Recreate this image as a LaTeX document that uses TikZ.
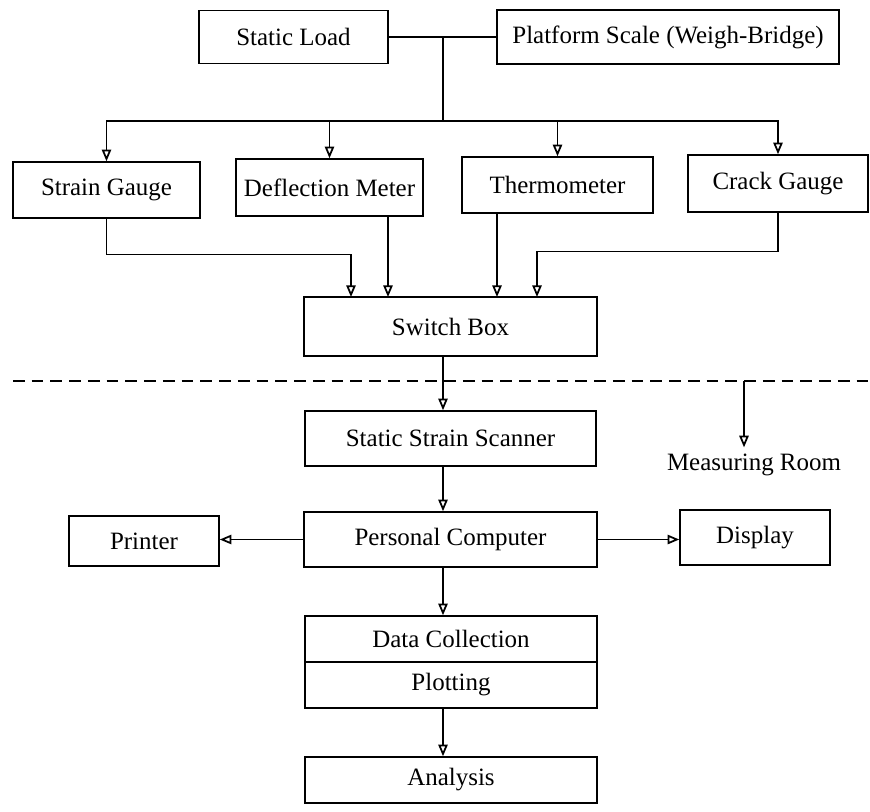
\documentclass[tikz,border=0pt]{standalone}
\usepackage{fontspec}
\setmainfont{Liberation Serif}
\usetikzlibrary{arrows.meta}
\begin{document}
\begin{tikzpicture}[x=0.03cm, y=-0.03cm, font=\fontsize{21.3}{25}\selectfont,
		>={Triangle[open, length=10pt, width=8pt, line width=1.5pt]},
		block/.style={draw, line width=1.3pt, inner sep=0pt, align=center},
		link/.style={line width=1.2pt}]
	\useasboundingbox (0,0) rectangle (870,811);
	% sensors side
	\node[block, minimum width=5.67cm, minimum height=1.59cm] (load) at (293.5,37) {Static Load};
	\node[block, minimum width=10.26cm, minimum height=1.62cm] (scale) at (668,37) {Platform Scale (Weigh-Bridge)};
	\node[block, minimum width=5.61cm, minimum height=1.68cm] (strain) at (106.5,190) {Strain Gauge};
	\node[block, minimum width=5.61cm, minimum height=1.71cm] (defl) at (329.5,187.5) {Deflection Meter};
	\node[block, minimum width=5.73cm, minimum height=1.68cm] (thermo) at (557.5,185) {Thermometer};
	\node[block, minimum width=5.4cm, minimum height=1.71cm] (crack) at (778,183.5) {Crack Gauge};
	\node[block, minimum width=8.79cm, minimum height=1.77cm] (sw) at (450.5,326.5) {Switch Box};

	\coordinate (j) at (443,37);
	\coordinate (d) at (443,121);
	\draw[link] (load.east) -- (scale.west);
	\draw[link] (j) -- (d);
	\draw[link,->] (d) -| (strain.north);
	\draw[link,->] (d) -| (defl.north);
	\draw[link,->] (d) -| (thermo.north);
	\draw[link,->] (d) -| (crack.north);

	\coordinate (in1) at (351,297);
	\coordinate (in2) at (388,297);
	\coordinate (in3) at (497,297);
	\coordinate (in4) at (537,297);
	\draw[link,->] (strain.south) -- ++(0,36) -| (in1);
	\draw[link,->] (defl.south -| in2) -- (in2);
	\draw[link,->] (thermo.south -| in3) -- (in3);
	\draw[link,->] (crack.south) -- ++(0,39) -| (in4);

	% measuring room
	\coordinate (dl) at (13,381);
	\coordinate (dr) at (870,381);
	\draw[line width=1pt, dash pattern=on 10pt off 6pt] (dl) -- (dr);
	\coordinate (m) at (744,381);
	\node[anchor=base, inner sep=5pt] (room) at (754,470) {Measuring Room};
	\draw[link,->] (m) -- (m |- room.north);

	\node[block, minimum width=8.73cm, minimum height=1.65cm] (scan) at (450.5,438.5) {Static Strain Scanner};
	\node[block, minimum width=8.79cm, minimum height=1.65cm] (pc) at (450.5,539.5) {Personal Computer};
	\node[block, minimum width=4.5cm, minimum height=1.5cm] (printer) at (144,541) {Printer};
	\node[block, minimum width=4.5cm, minimum height=1.65cm] (disp) at (755,537.5) {Display};
	\node[block, minimum width=8.76cm, minimum height=1.38cm] (dc) at (451,639) {Data Collection};
	\node[block, minimum width=8.76cm, minimum height=1.38cm] (plot) at (451,685) {Plotting};
	\node[block, minimum width=8.76cm, minimum height=1.38cm] (ana) at (451,780) {Analysis};

	\coordinate (ax) at (443,0);
	\draw[link,->] (sw.south -| ax) -- (scan.north -| ax);
	\draw[link,->] (scan.south -| ax) -- (pc.north -| ax);
	\draw[link,->] (pc.west) -- (pc.west -| printer.east);
	\draw[link,->] (pc.east) -- (pc.east -| disp.west);
	\draw[link,->] (pc.south -| ax) -- (dc.north -| ax);
	\draw[link,->] (plot.south -| ax) -- (ana.north -| ax);
\end{tikzpicture}
\end{document}
